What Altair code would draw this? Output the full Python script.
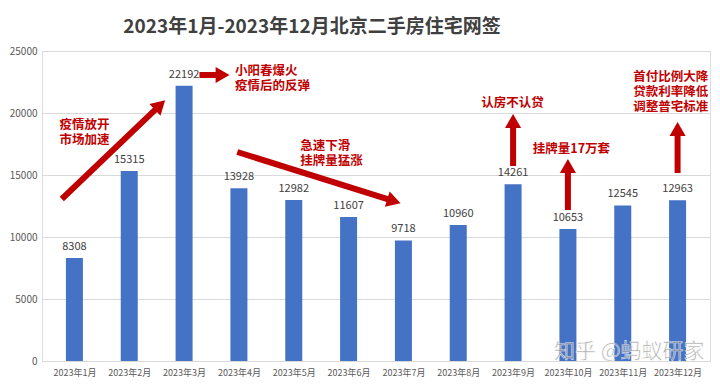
import math
import altair as alt
import pandas as pd

months = list(range(1, 13))
values = [8308, 15315, 22192, 13928, 12982, 11607, 9718, 10960, 14261, 10653, 12545, 12963]

# arrows: tail (x, y) -> head (x, y) in data coordinates
arrow_x1 = [0.77, 3.28, 3.97, 9.0, 10.0, 12.0]
arrow_y1 = [13065, 23065, 16855, 15726, 12177, 15161]
arrow_x2 = [2.64, 3.81, 6.93, 9.0, 10.0, 12.0]
arrow_y2 = [20968, 23065, 12742, 19839, 16210, 19194]

note_x = [0.73, 3.93, 5.12, 8.42, 9.36, 11.19]
note_y = [19032, 23387, 17339, 20806, 17097, 22903]
note_lines = [
    ["疫情放开", "市场加速"],
    ["小阳春爆火", "疫情后的反弹"],
    ["急速下滑", "挂牌量猛涨"],
    ["认房不认贷"],
    ["挂牌量17万套"],
    ["首付比例大降", "贷款利率降低", "调整普宅标准"],
]

title_text = "2023年1月-2023年12月北京二手房住宅网签"
watermark = "知乎 @蚂蚁研家"

W, H = 668, 310
XMIN, XMAX = 0.5, 12.5
YMAX = 25000
pxx = W / (XMAX - XMIN)
pxy = H / YMAX
LINE_H = 15

FONT = "Noto Sans CJK SC"
RED = "#C00000"

bars = pd.DataFrame({"m": months, "v": values})

shaft_rows, head_rows = [], []
for x1, y1, x2, y2 in zip(arrow_x1, arrow_y1, arrow_x2, arrow_y2):
    dxp = (x2 - x1) * pxx
    dyp = -(y2 - y1) * pxy
    L = math.hypot(dxp, dyp)
    ux, uy = dxp / L, dyp / L
    back = 6
    hx = x2 - ux * back / pxx
    hy = y2 + uy * back / pxy
    ang = math.degrees(math.atan2(dxp, -dyp)) % 360
    shaft_rows.append({"x": x1, "y": y1, "x2": hx, "y2": hy})
    head_rows.append({"x": hx, "y": hy, "a": ang})
shafts = pd.DataFrame(shaft_rows)
heads = pd.DataFrame(head_rows)

note_rows = []
for nx, ny, lines in zip(note_x, note_y, note_lines):
    for i, t in enumerate(lines):
        note_rows.append({"x": nx, "y": ny - i * LINE_H / pxy, "t": t})
notes = pd.DataFrame(note_rows)

xscale = alt.Scale(domain=[XMIN, XMAX], nice=False, zero=False)
yscale = alt.Scale(domain=[0, YMAX], nice=False)

base_bars = alt.Chart(bars)
bar = base_bars.mark_bar(size=17, color="#4472C4").encode(
    x=alt.X("m:Q", scale=xscale, title=None,
            axis=alt.Axis(values=months, labelExpr="'2023年' + datum.value + '月'",
                          grid=False, ticks=False, domainColor="#d9d9d9",
                          labelColor="#595959", labelFont=FONT, labelFontSize=9,
                          labelPadding=7, labelFlush=False, labelOverlap=False)),
    y=alt.Y("v:Q", scale=yscale, title=None,
            axis=alt.Axis(values=[0, 5000, 10000, 15000, 20000, 25000], format="d",
                          domain=False, ticks=False, gridColor="#d9d9d9",
                          labelColor="#595959", labelFont=FONT, labelFontSize=10,
                          labelPadding=5)),
)
labels = base_bars.mark_text(font=FONT, fontSize=11, color="#404040", dy=-11,
                             baseline="middle").encode(
    x=alt.X("m:Q", scale=xscale), y=alt.Y("v:Q", scale=yscale), text="v:Q")

shaft = alt.Chart(shafts).mark_rule(color=RED, strokeWidth=6).encode(
    x=alt.X("x:Q", scale=xscale), y=alt.Y("y:Q", scale=yscale),
    x2="x2:Q", y2="y2:Q")
head = alt.Chart(heads).mark_point(shape="triangle-up", filled=True, color=RED,
                                   opacity=1, size=260).encode(
    x=alt.X("x:Q", scale=xscale), y=alt.Y("y:Q", scale=yscale),
    angle=alt.Angle("a:Q", scale=None))

note = alt.Chart(notes).mark_text(font=FONT, fontSize=12.5, fontWeight="bold", color=RED,
                                  align="left", baseline="middle").encode(
    x=alt.X("x:Q", scale=xscale), y=alt.Y("y:Q", scale=yscale), text="t:N")

title = alt.Chart(pd.DataFrame({"t": [title_text]})).mark_text(
    font=FONT, fontSize=19, fontWeight="bold", color="#404040", align="center",
    baseline="middle").encode(x=alt.value(270), y=alt.value(-24), text="t:N")

wm = alt.Chart(pd.DataFrame({"t": [watermark]})).mark_text(
    font=FONT, fontSize=21, color="#8c8c8c", opacity=0.75, align="left",
    baseline="middle", stroke="white", strokeWidth=0.6).encode(
    x=alt.value(512), y=alt.value(301), text="t:N")

chart = alt.layer(bar, labels, shaft, head, note, wm, title).properties(
    width=W, height=H,
    autosize=alt.AutoSizeParams(type="none"),
    padding={"left": 34, "top": 43, "right": 2, "bottom": 19},
).configure_view(stroke=None).configure(background="white")

chart.save("out.html", embed_options={"renderer": "svg", "actions": False})
